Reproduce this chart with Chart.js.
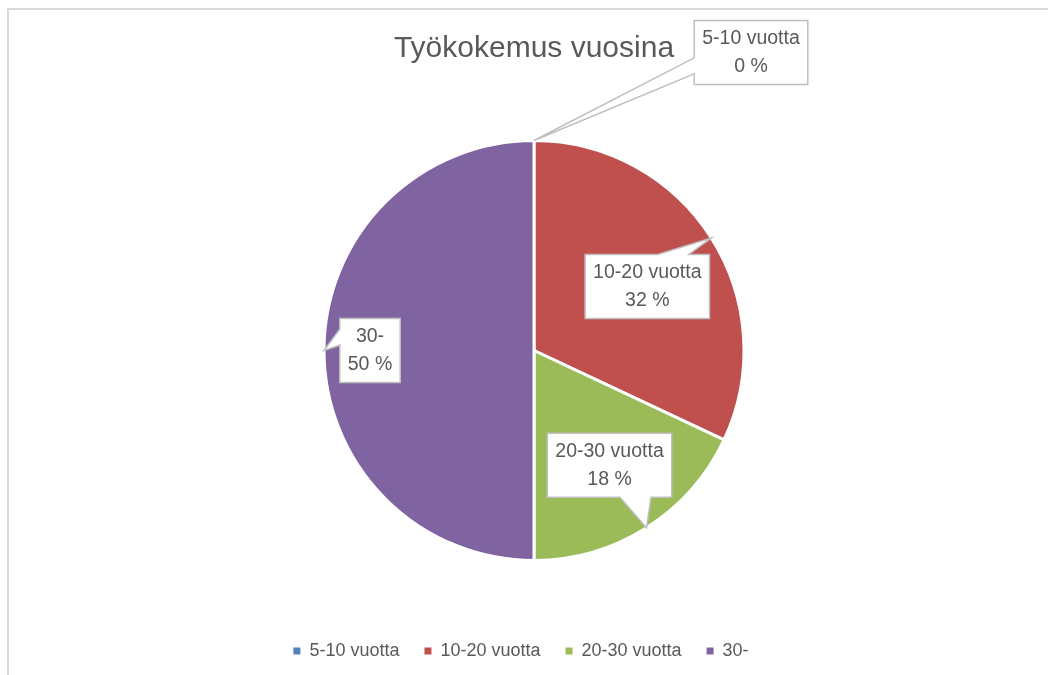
<!DOCTYPE html>
<html>
<head>
<meta charset="utf-8">
<script src="https://cdn.jsdelivr.net/npm/chart.js@4"></script>
<style>
  html, body { margin: 0; padding: 0; background: #fff; overflow: hidden; }
  #wrap { position: relative; width: 1048px; height: 675px; }
  #frame { position: absolute; left: 7px; top: 8px; width: 1100px; height: 720px; border: 2px solid #d9d9d9; }
  canvas { position: absolute; left: 0; top: 0; }
</style>
</head>
<body>
<div id="wrap">
  <div id="frame"></div>
  <canvas id="chart" width="1048" height="675"></canvas>
</div>
<script>
const categories = ['5-10 vuotta', '10-20 vuotta', '20-30 vuotta', '30-']
const shares = [0, 32, 18, 50]
const sliceColors = ['#4F81BD', '#C0504D', '#9BBB59', '#8064A2']
const TEXT = '#595959'

Chart.defaults.font.family = "'Liberation Sans', Arial, sans-serif"
Chart.defaults.color = TEXT

// Excel-style callout boxes pointing at the middle of each slice's edge
const calloutPlugin = {
  id: 'callouts',
  afterDatasetsDraw(chart, args, opts) {
    const ctx = chart.ctx
    const meta = chart.getDatasetMeta(0)
    const values = chart.data.datasets[0].data
    const total = values.reduce((a, b) => a + b, 0)
    ctx.save()
    ctx.font = opts.fontSize + 'px ' + Chart.defaults.font.family
    meta.data.forEach((arc, i) => {
      const { x, y, startAngle, endAngle, outerRadius } = arc.getProps(['x', 'y', 'startAngle', 'endAngle', 'outerRadius'], true)
      const mid = (startAngle + endAngle) / 2
      const tx = x + Math.cos(mid) * outerRadius
      const ty = y + Math.sin(mid) * outerRadius
      const lines = [chart.data.labels[i], Math.round(values[i] / total * 100) + ' %']
      const w = Math.max(...lines.map(s => ctx.measureText(s).width)) + 2 * opts.padX
      const h = lines.length * opts.lineHeight + 2 * opts.padY
      const cx = tx + opts.offsets[i][0], cy = ty + opts.offsets[i][1]
      const l = cx - w / 2, t = cy - h / 2, r = cx + w / 2, b = cy + h / 2
      const dx = tx - cx, dy = ty - cy
      let side
      if (Math.abs(dx) / w > Math.abs(dy) / h) side = dx > 0 ? 'right' : 'left'
      else side = dy > 0 ? 'bottom' : 'top'
      const horiz = side === 'top' || side === 'bottom'
      const f = (horiz ? dx > 0 : dy > 0) ? [7 / 12, 10 / 12] : [2 / 12, 5 / 12]

      ctx.beginPath()
      ctx.moveTo(l, t)
      if (side === 'top') { ctx.lineTo(l + w * f[0], t); ctx.lineTo(tx, ty); ctx.lineTo(l + w * f[1], t) }
      ctx.lineTo(r, t)
      if (side === 'right') { ctx.lineTo(r, t + h * f[0]); ctx.lineTo(tx, ty); ctx.lineTo(r, t + h * f[1]) }
      ctx.lineTo(r, b)
      if (side === 'bottom') { ctx.lineTo(l + w * f[1], b); ctx.lineTo(tx, ty); ctx.lineTo(l + w * f[0], b) }
      ctx.lineTo(l, b)
      if (side === 'left') { ctx.lineTo(l, t + h * f[1]); ctx.lineTo(tx, ty); ctx.lineTo(l, t + h * f[0]) }
      ctx.closePath()
      ctx.fillStyle = '#fff'
      ctx.fill()
      ctx.lineWidth = 1.5
      ctx.strokeStyle = '#bfbfbf'
      ctx.stroke()

      ctx.fillStyle = TEXT
      ctx.textAlign = 'center'
      ctx.textBaseline = 'middle'
      lines.forEach((s, k) => ctx.fillText(s, cx, t + opts.padY + opts.lineHeight * (k + 0.5)))
    })
    ctx.restore()
  }
}

// nudge title/legend so they sit where the original has them
const nudgePlugin = {
  id: 'nudge',
  afterLayout(chart, args, opts) {
    const lg = chart.legend
    lg.left += opts.legendX; lg.right += opts.legendX
    lg.top += opts.legendY; lg.bottom += opts.legendY
    const tb = chart.titleBlock
    tb.left += opts.titleX; tb.right += opts.titleX
  }
}

const baseLabels = Chart.overrides.doughnut.plugins.legend.labels.generateLabels

new Chart(document.getElementById('chart'), {
  type: 'pie',
  data: {
    labels: categories,
    datasets: [{
      data: shares,
      backgroundColor: sliceColors,
      borderColor: '#fff',
      borderWidth: 3,
      radius: 210
    }]
  },
  plugins: [calloutPlugin, nudgePlugin],
  options: {
    responsive: false,
    animation: false,
    layout: { padding: { left: 20, right: 0, top: 0, bottom: 0 } },
    plugins: {
      title: {
        display: true,
        text: 'Työkokemus vuosina',
        color: TEXT,
        font: { size: 30, weight: 'normal' },
        padding: { top: 31, bottom: 12 }
      },
      legend: {
        position: 'bottom',
        labels: {
          boxWidth: 7,
          boxHeight: 7,
          padding: 25,
          color: TEXT,
          font: { size: 18 },
          generateLabels: chart => baseLabels(chart).map(it => ({ ...it, lineWidth: 0 }))
        }
      },
      tooltip: { enabled: false },
      callouts: {
        fontSize: 19.5,
        lineHeight: 28,
        padX: 8,
        padY: 4,
        offsets: [[217, -88], [-64, 48.5], [-37, -62.5], [46, 0]]
      },
      nudge: { legendX: -13, legendY: -5, titleX: 0 }
    }
  }
})
</script>
</body>
</html>
